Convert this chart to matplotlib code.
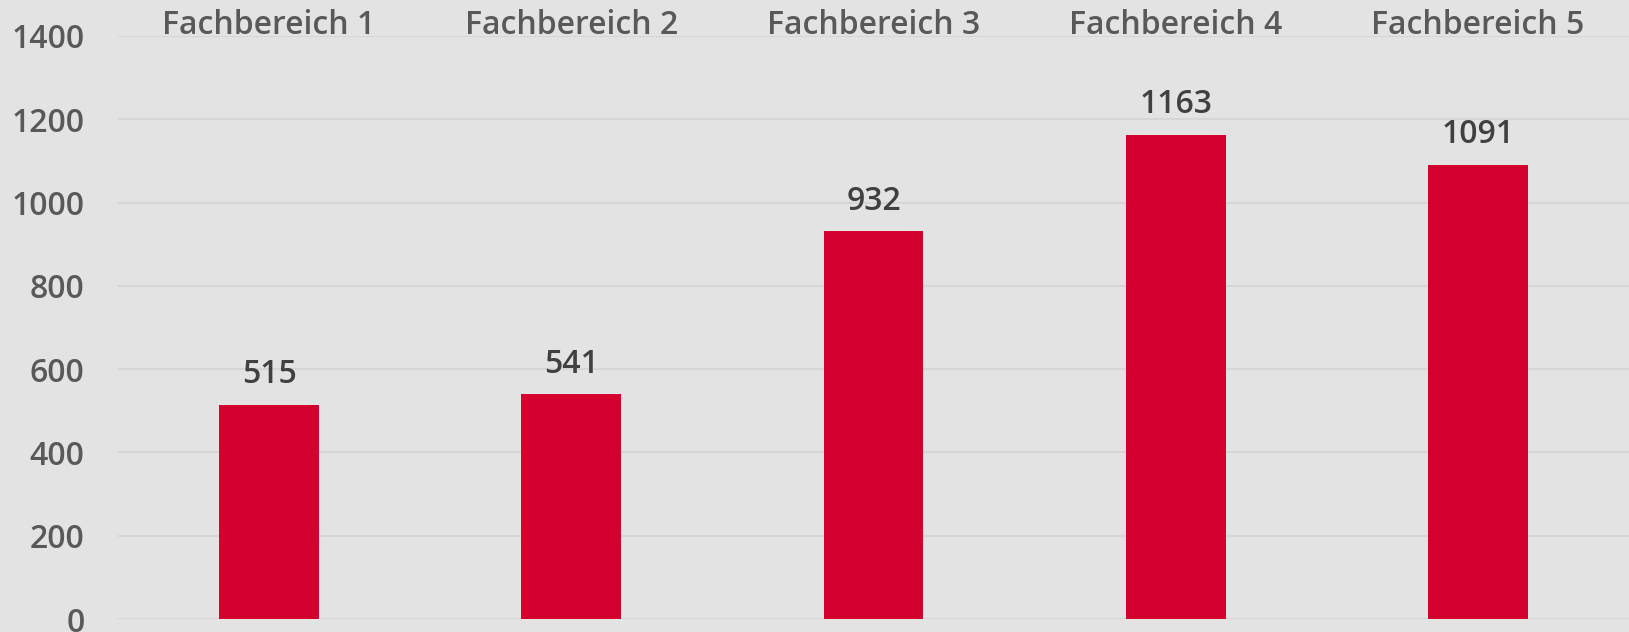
import matplotlib
matplotlib.use("Agg")
import matplotlib.pyplot as plt

# Data
categories = ["Fachbereich 1", "Fachbereich 2", "Fachbereich 3", "Fachbereich 4", "Fachbereich 5"]
values = [515, 541, 932, 1163, 1091]
y_ticks = [0, 200, 400, 600, 800, 1000, 1200, 1400]

bg = "#e3e3e3"
bar_color = "#d4002d"

plt.rcParams['font.family'] = ['Open Sans', 'DejaVu Sans']

fig = plt.figure(figsize=(16.29, 6.32), dpi=100, facecolor=bg)
ax = fig.add_axes([118 / 1629, 13 / 632, 1 - 118 / 1629, (619 - 36) / 632])
ax.set_facecolor(bg)

x = range(len(categories))
ax.bar(x, values, width=0.33, color=bar_color, zorder=3)

# value labels above bars
for xi, v in zip(x, values):
    ax.annotate(str(v), (xi, v), xytext=(0, 9.5), textcoords="offset points",
                ha="center", va="bottom", fontsize=23, fontweight="semibold",
                color="#404040")

ax.set_xlim(-0.5, len(categories) - 0.5)
ax.set_ylim(0, 1400)
ax.set_yticks(y_ticks)
ax.set_xticks(list(x))
ax.set_xticklabels(categories)

ax.xaxis.tick_top()
ax.tick_params(axis="x", length=0, pad=-4, labelsize=23, labelcolor="#595959")
ax.tick_params(axis="y", length=0, pad=24, labelsize=23, labelcolor="#595959")
for lbl in ax.get_xticklabels() + ax.get_yticklabels():
    lbl.set_fontweight("semibold")

ax.grid(axis="y", color="#d6d6d6", linewidth=1.5, zorder=0)
ax.set_axisbelow(True)
for s in ax.spines.values():
    s.set_visible(False)

plt.savefig("out.png", dpi=100, facecolor=bg)
plt.close()
